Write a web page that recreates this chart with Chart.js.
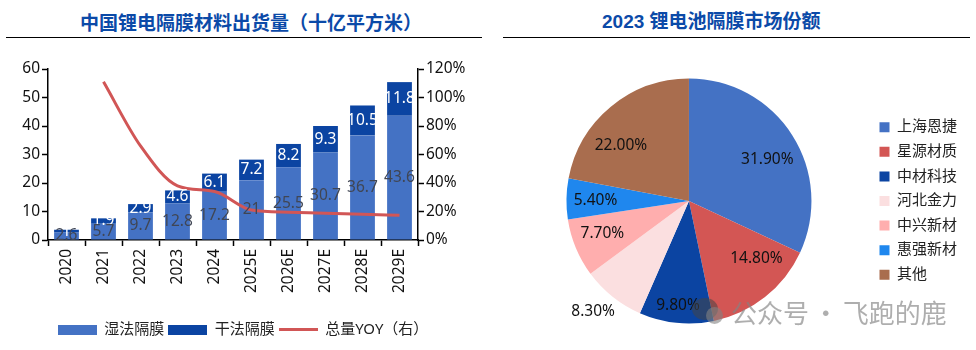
<!DOCTYPE html>
<html lang="zh-CN">
<head>
    <meta charset="UTF-8">
    <title>锂电隔膜</title>
    <script src="https://cdn.jsdelivr.net/npm/chart.js@4"></script>
    <style>
        html, body { margin: 0; padding: 0; background: #ffffff; }
        body { width: 976px; height: 350px; position: relative; overflow: hidden; font-family: "Noto Sans", "Noto Sans CJK SC", sans-serif; }
        canvas { position: absolute; }
        #barChart { left: 0; top: 40px; }
        #pieChart { left: 503px; top: 52px; }
        .title { position: absolute; top: 9px; color: #0b4aa8; font-weight: bold; white-space: nowrap; line-height: 26px; }
        #titleLeft { left: 80px; font-size: 19px; font-family: "Noto Sans CJK SC", sans-serif; }
        #titleRight { left: 602px; font-size: 19px; font-family: "Liberation Sans", "Noto Sans CJK SC", sans-serif; }
        .rule { position: absolute; top: 37px; height: 1px; background: #000000; }
        #ruleLeft { left: 6px; width: 476px; }
        #ruleRight { left: 503px; width: 467px; }
        #watermark { position: absolute; left: 731px; top: 294px; font-size: 26px; word-spacing: -2px; line-height: 36px; color: rgba(130, 130, 130, 0.65); white-space: nowrap; font-family: "Noto Sans CJK SC", sans-serif; }
        .bubble { position: absolute; border-radius: 50%; background: rgba(70, 70, 70, 0.55); }
    </style>
</head>
<body>
    <div class="title" id="titleLeft">中国锂电隔膜材料出货量（十亿平方米）</div>
    <div class="title" id="titleRight">2023 锂电池隔膜市场份额</div>
    <div class="rule" id="ruleLeft"></div>
    <div class="rule" id="ruleRight"></div>

    <canvas id="barChart" width="486" height="310"></canvas>
    <canvas id="pieChart" width="464" height="298"></canvas>

    <div class="bubble" style="left:692px;top:298px;width:26px;height:22px;"></div>
    <div class="bubble" style="left:706px;top:307px;width:17px;height:17px;background:rgba(130,130,130,0.6);"></div>
    <div id="watermark">公众号 · 飞跑的鹿</div>

    <script>
        // Bar chart data
        var years = ['2020', '2021', '2022', '2023', '2024', '2025E', '2026E', '2027E', '2028E', '2029E'];
        var wetValues = [2.6, 5.7, 9.7, 12.8, 17.2, 21, 25.5, 30.7, 36.7, 43.6];
        var dryValues = [1, 1.9, 2.9, 4.6, 6.1, 7.2, 8.2, 9.3, 10.5, 11.8];
        var yoyValues = [null, 111, 66, 38, 34, 21, 19.5, 18.7, 18, 17.4];

        // Pie chart data
        var companies = ['上海恩捷', '星源材质', '中材科技', '河北金力', '中兴新材', '惠强新材', '其他'];
        var shares = [31.9, 14.8, 9.8, 8.3, 7.7, 5.4, 22];

        var wetColor = '#4472c4';
        var dryColor = '#0b44a2';
        var lineColor = '#d15656';
        var pieColors = ['#4472c4', '#d35654', '#0b44a2', '#fbdfe0', '#ffaeae', '#1f87ee', '#a96d4e'];
        var textFont = '"Noto Sans", "Noto Sans CJK SC", sans-serif';

        // legend swatch as small canvas, so bars and the line can share one legend
        function makeSwatch(color, height) {
            var c = document.createElement('canvas');
            c.width = 39;
            c.height = height;
            var g = c.getContext('2d');
            g.fillStyle = color;
            g.fillRect(0, 0, 39, height);
            return c;
        }
        var swatches = [makeSwatch(wetColor, 10), makeSwatch(dryColor, 10), makeSwatch(lineColor, 3)];

        // value labels in the middle of each bar segment
        var barLabels = {
            id: 'barLabels',
            afterDatasetsDraw: function (chart) {
                var ctx = chart.ctx;
                ctx.save();
                ctx.font = '15.5px ' + textFont;
                ctx.textAlign = 'center';
                ctx.textBaseline = 'middle';
                [2, 1].forEach(function (i) {
                    ctx.fillStyle = i === 1 ? '#404654' : '#ffffff';
                    chart.getDatasetMeta(i).data.forEach(function (bar, j) {
                        var p = bar.getCenterPoint();
                        ctx.fillText(String(chart.data.datasets[i].data[j]), p.x, p.y);
                    });
                });
                ctx.restore();
            }
        };

        // percent labels on the slices, nudged by hand to where the original has them
        var labelRadius = { 2: 0.86, 3: 1.19 };
        var labelNudge = [[3, 7], [12, -13], [0, 0], [-5, -3], [-4, -2], [-4, 1], [-11, 13]];
        var pieLabels = {
            id: 'pieLabels',
            afterDatasetsDraw: function (chart) {
                var ctx = chart.ctx;
                ctx.save();
                ctx.font = '15.5px ' + textFont;
                ctx.fillStyle = '#111111';
                ctx.textAlign = 'center';
                ctx.textBaseline = 'middle';
                chart.getDatasetMeta(0).data.forEach(function (arc, i) {
                    var mid = (arc.startAngle + arc.endAngle) / 2;
                    var r = arc.outerRadius * (labelRadius[i] || 0.73);
                    ctx.fillText(shares[i].toFixed(2) + '%', arc.x + Math.cos(mid) * r + labelNudge[i][0], arc.y + Math.sin(mid) * r + labelNudge[i][1]);
                });
                ctx.restore();
            }
        };

        new Chart(document.getElementById('barChart').getContext('2d'), {
            type: 'bar',
            data: {
                labels: years,
                datasets: [
                    { label: '总量YOY（右）', type: 'line', data: yoyValues, yAxisID: 'y1', borderColor: lineColor, borderWidth: 3, pointRadius: 0, tension: 0.4, cubicInterpolationMode: 'monotone', order: 0 },
                    { label: '湿法隔膜', data: wetValues, backgroundColor: wetColor, stack: 's', order: 1 },
                    { label: '干法隔膜', data: dryValues, backgroundColor: dryColor, stack: 's', order: 1 }
                ]
            },
            options: {
                responsive: false,
                animation: false,
                events: [],
                datasets: { bar: { barPercentage: 0.67, categoryPercentage: 1 } },
                layout: { padding: { top: 29, left: 0, right: 0, bottom: 3 } },
                plugins: {
                    tooltip: { enabled: false },
                    legend: {
                        position: 'bottom',
                        labels: {
                            color: '#222222',
                            font: { family: textFont, size: 15 },
                            padding: 4,
                            usePointStyle: true,
                            pointStyleWidth: 39,
                            generateLabels: function (chart) {
                                return [1, 2, 0].map(function (i, n) {
                                    return { text: chart.data.datasets[i].label, pointStyle: swatches[n], datasetIndex: i, fontColor: '#222222', lineWidth: 0 };
                                });
                            }
                        }
                    }
                },
                scales: {
                    x: {
                        stacked: true,
                        grid: { drawOnChartArea: false, color: '#000000', tickLength: 6, tickWidth: 1.5 },
                        border: { color: '#000000', width: 1.5 },
                        ticks: { color: '#111111', font: { family: textFont, size: 15.5 }, minRotation: 90, maxRotation: 90, padding: 3, autoSkip: false },
                        afterFit: function (s) { s.height = 78; }
                    },
                    y: {
                        stacked: true,
                        min: 0,
                        max: 60,
                        grid: { drawOnChartArea: false, color: '#000000', tickLength: 6, tickWidth: 1.5 },
                        border: { color: '#000000', width: 1.5 },
                        ticks: { stepSize: 10, color: '#111111', font: { family: textFont, size: 15.5 }, padding: 2 },
                        afterFit: function (s) { s.width = 48; }
                    },
                    y1: {
                        position: 'right',
                        min: 0,
                        max: 120,
                        grid: { drawOnChartArea: false, color: '#000000', tickLength: 6, tickWidth: 1.5 },
                        border: { color: '#000000', width: 1.5 },
                        ticks: { stepSize: 20, color: '#111111', font: { family: textFont, size: 15.5 }, padding: 2, callback: function (v) { return v + '%'; } },
                        afterFit: function (s) { s.width = 68; }
                    }
                }
            },
            plugins: [barLabels]
        });

        new Chart(document.getElementById('pieChart').getContext('2d'), {
            type: 'pie',
            data: {
                labels: companies,
                datasets: [{ data: shares, backgroundColor: pieColors, borderWidth: 0 }]
            },
            options: {
                responsive: false,
                animation: false,
                events: [],
                layout: { padding: { top: 26.5, bottom: 26.5, left: 5 } },
                plugins: {
                    tooltip: { enabled: false },
                    legend: {
                        position: 'right',
                        labels: {
                            color: '#222222',
                            font: { family: textFont, size: 15 },
                            boxWidth: 10,
                            boxHeight: 10,
                            padding: 9.6
                        }
                    }
                }
            },
            plugins: [pieLabels]
        });
    </script>
</body>
</html>
